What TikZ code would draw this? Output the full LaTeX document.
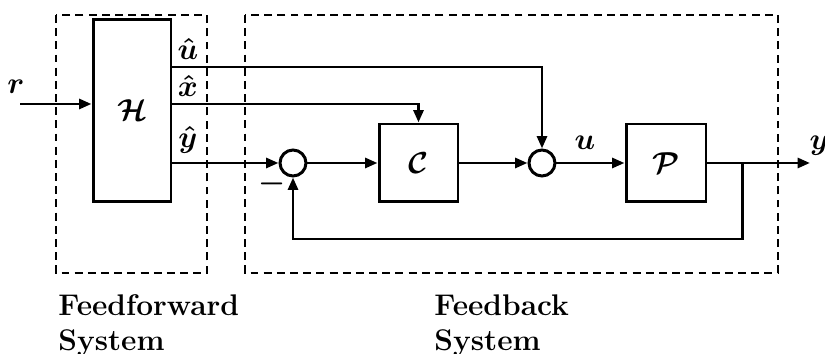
\documentclass[tikz,border=0pt]{standalone}
\usepackage{amsmath,bm}
\usetikzlibrary{arrows.meta}
\begin{document}
\begin{tikzpicture}[x=0.02cm, y=-0.02cm, line width=1.7pt,
  >={Triangle[length=0.25cm,width=0.2cm]},
  blk/.style={draw, rectangle, inner sep=0pt, font=\LARGE},
  sumnode/.style={draw, circle, minimum size=0.52cm, inner sep=0pt},
  sysbox/.style={dash pattern=on 4.5pt off 3pt, line width=1.6pt},
  lbl/.style={font=\LARGE, inner sep=0pt},
  captxt/.style={font=\fontsize{17}{20}\selectfont\bfseries, align=left, anchor=north west, inner sep=0pt}]

\useasboundingbox (0,0) rectangle (825,354);

% 虚线框
\draw[sysbox] (56,15) rectangle (207,273);
\draw[sysbox] (245,15) rectangle (778,273);

% 方框和求和点
\node[blk, minimum width=1.56cm, minimum height=3.66cm] (H) at (132,110.5) {$\bm{\mathcal{H}}$};
\node[blk, minimum width=1.58cm, minimum height=1.56cm] (C) at (418.5,163) {$\bm{\mathcal{C}}$};
\node[blk, minimum width=1.6cm, minimum height=1.56cm] (P) at (666,163) {$\bm{\mathcal{P}}$};
\node[sumnode] (s1) at (293,163) {};
\node[sumnode] (s2) at (542,163) {};

\coordinate (rin) at (20,104);
\coordinate (uh) at (171,67);
\coordinate (xh) at (171,104);
\coordinate (br) at (742,163);
\coordinate (fb) at (742,239);
\coordinate (out) at (810,163);

\draw[->] (rin) -- (rin -| H.west);
\draw[->] (uh) -| (s2.north);
\draw[->] (xh) -| (C.north);
\draw[->] (H.east |- s1) -- (s1.west);
\draw[->] (s1) -- (C);
\draw[->] (C) -- (s2);
\draw[->] (s2) -- (P);
\draw[->] (P) -- (out);
\draw[->] (br) -- (fb) -| (s1.south);

% 信号标注
\node[lbl] (rl) at (16,87) {$\bm{r}$};
\node[lbl] (uhl) at (188,49) {$\bm{\hat u}$};
\node[lbl] (xhl) at (188,86) {$\bm{\hat x}$};
\node[lbl] (yhl) at (188,140) {$\bm{\hat y}$};
\node[lbl] (ul) at (585,143) {$\bm{u}$};
\node[lbl, anchor=west] (yl) at (808,146) {$\bm{y}$};
\node[lbl] (minus) at (272,184) {$\bm{-}$};

\node[captxt] (ffl) at (57,293) {Feedforward\\System};
\node[captxt] (fbl) at (433,293) {Feedback\\System};

\end{tikzpicture}
\end{document}
